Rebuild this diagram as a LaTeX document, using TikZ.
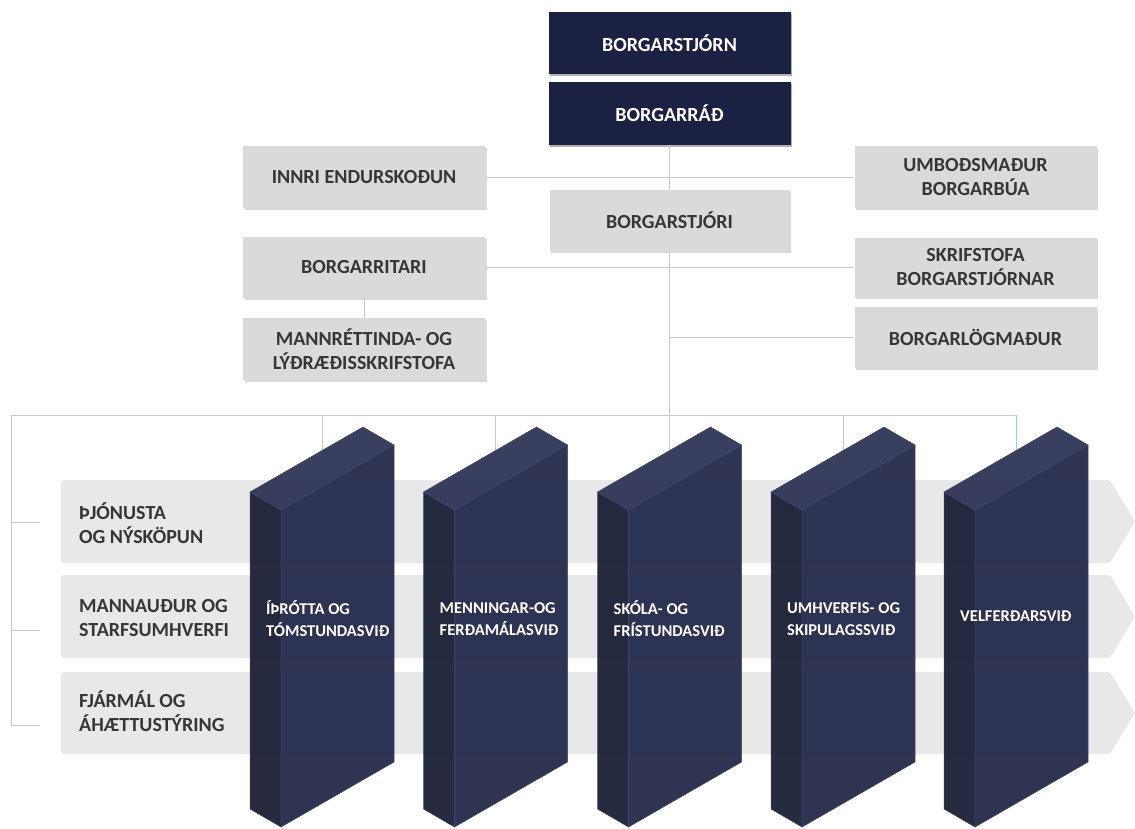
\documentclass[tikz,border=0pt]{standalone}
\usepackage{fontspec}
\setmainfont{Carlito}
\usetikzlibrary{shadows}

\definecolor{navy}{HTML}{1B2142}
\definecolor{boxgrey}{HTML}{DADADA}
\definecolor{bandgrey}{HTML}{E8E8E8}
\definecolor{txtgrey}{HTML}{363636}
\definecolor{linegrey}{HTML}{C8C8C8}
\definecolor{tealline}{HTML}{8FD5C8}
\definecolor{pfront}{HTML}{262C4C}
\definecolor{pside}{HTML}{1E2238}
\definecolor{ptop}{HTML}{313758}
\definecolor{pedge}{HTML}{404766}

\begin{document}
\begin{tikzpicture}[x=1pt,y=-1pt,
    council/.style={fill=navy,text=white,font=\bfseries\fontsize{20}{24}\selectfont,
      minimum width=242pt,minimum height=62pt,inner sep=0pt,
      drop shadow={shadow xshift=1.5pt,shadow yshift=-1.5pt,fill=black,opacity=0.3}},
    office/.style={fill=boxgrey,text=txtgrey,align=center,font=\bfseries\fontsize{20}{24}\selectfont,
      minimum width=242pt,minimum height=62pt,inner sep=0pt,
      drop shadow={shadow xshift=1.5pt,shadow yshift=-1.5pt,fill=black,opacity=0.15}},
    conn/.style={draw=linegrey,line width=0.8pt},
    band/.style={fill=bandgrey,rounded corners=3pt},
    bandtext/.style={anchor=west,align=left,text=txtgrey,inner sep=0pt,
      font=\bfseries\fontsize{20}{24}\selectfont},
    pillar side/.style={fill=pside,fill opacity=0.96,draw=pedge,line width=0.5pt},
    pillar front/.style={fill=pfront,fill opacity=0.96,draw=pedge,line width=0.5pt},
    pillar top/.style={fill=ptop,fill opacity=0.96,draw=pedge,line width=0.5pt},
    pillartext/.style={anchor=west,align=left,text=white,inner sep=0pt,
      font=\bfseries\fontsize{16.5}{22}\selectfont}]

    \useasboundingbox (0,0) rectangle (1135,828);

    % top of the tree
    \node[council] (Stjorn) at (669.5,43) {BORGARSTJÓRN};
    \node[council,minimum height=63pt] (Rad) at (669.5,113.5) {BORGARRÁÐ};

    \node[office] (Innri) at (364,177) {INNRI ENDURSKOÐUN};
    \node[office] (Umbod) at (975.5,177) {UMBOÐSMAÐUR\\BORGARBÚA};
    \node[office,minimum width=240pt,minimum height=61pt] (Stjori) at (669.5,220.5) {BORGARSTJÓRI};
    \node[office,minimum height=61pt] (Ritari) at (364,267.5) {BORGARRITARI};
    \node[office,minimum height=60pt] (Skrif) at (975.5,267.5) {SKRIFSTOFA\\BORGARSTJÓRNAR};
    \node[office] (Mannr) at (364,349) {MANNRÉTTINDA- OG\\LÝÐRÆÐISSKRIFSTOFA};
    \node[office,minimum height=61pt] (Logm) at (975.5,337.5) {BORGARLÖGMAÐUR};

    \coordinate (busL) at (11,415);
    \coordinate (busR) at (1016,415);
    \coordinate (T1) at (322,450.6);
    \coordinate (T2) at (495.5,450.6);
    \coordinate (T3) at (669.5,450.6);
    \coordinate (T4) at (843,450.6);
    \coordinate (T5) at (1016,450.6);
    \coordinate (Br1) at (40,522);
    \coordinate (Br2) at (40,630);
    \coordinate (Br3) at (40,725);

    \path[conn] (Rad) edge (Stjori);
    \path[conn] (Innri) edge (Umbod);
    \path[conn] (Ritari) edge (Skrif);
    \path[conn] (Ritari) edge (Mannr);
    \draw[conn] (Rad.south |- Logm.west) -- (Logm.west);
    \draw[conn] (Stjori) -- (T3);

    % bus to the departments
    \draw[conn] (busL) -- (busR);
    \draw[conn] (T1 |- busL) -- (T1);
    \draw[conn] (T2 |- busL) -- (T2);
    \draw[conn] (T4 |- busL) -- (T4);
    \draw[tealline,line width=0.8pt] (busR) -- (T5);
    \draw[conn] (busL) -- (busL |- Br3) -- (Br3);
    \draw[conn] (busL |- Br1) -- (Br1);
    \draw[conn] (busL |- Br2) -- (Br2);

    % bands
    \fill[band] (61,480) -- (1110,480) -- (1135,521.5) -- (1110,563) -- (61,563) -- cycle;
    \fill[band] (61,575) -- (1110,575) -- (1135,616.5) -- (1110,658) -- (61,658) -- cycle;
    \fill[band] (61,672) -- (1110,672) -- (1135,713) -- (1110,754) -- (61,754) -- cycle;

    \node[bandtext] (L1) at (79,523) {ÞJÓNUSTA\\OG NÝSKÖPUN};
    \node[bandtext] (L2) at (79,618.5) {MANNAUÐUR OG\\STARFSUMHVERFI};
    \node[bandtext] (L3) at (79,711.5) {FJÁRMÁL OG\\ÁHÆTTUSTÝRING};

    % pillars
    \begin{scope}[xshift=250pt]
      \filldraw[pillar side] (0,492) -- (31,510) -- (31,827) -- (0,809) -- cycle;
      \filldraw[pillar front] (31,510) -- (144,445) -- (144,762) -- (31,827) -- cycle;
      \filldraw[pillar top] (0,492) -- (113,427) -- (144,445) -- (31,510) -- cycle;
    \end{scope}
    \begin{scope}[xshift=423.5pt]
      \filldraw[pillar side] (0,492) -- (31,510) -- (31,827) -- (0,809) -- cycle;
      \filldraw[pillar front] (31,510) -- (144,445) -- (144,762) -- (31,827) -- cycle;
      \filldraw[pillar top] (0,492) -- (113,427) -- (144,445) -- (31,510) -- cycle;
    \end{scope}
    \begin{scope}[xshift=597.5pt]
      \filldraw[pillar side] (0,492) -- (31,510) -- (31,827) -- (0,809) -- cycle;
      \filldraw[pillar front] (31,510) -- (144,445) -- (144,762) -- (31,827) -- cycle;
      \filldraw[pillar top] (0,492) -- (113,427) -- (144,445) -- (31,510) -- cycle;
    \end{scope}
    \begin{scope}[xshift=771pt]
      \filldraw[pillar side] (0,492) -- (31,510) -- (31,827) -- (0,809) -- cycle;
      \filldraw[pillar front] (31,510) -- (144,445) -- (144,762) -- (31,827) -- cycle;
      \filldraw[pillar top] (0,492) -- (113,427) -- (144,445) -- (31,510) -- cycle;
    \end{scope}
    \begin{scope}[xshift=944pt]
      \filldraw[pillar side] (0,492) -- (31,510) -- (31,827) -- (0,809) -- cycle;
      \filldraw[pillar front] (31,510) -- (144,445) -- (144,762) -- (31,827) -- cycle;
      \filldraw[pillar top] (0,492) -- (113,427) -- (144,445) -- (31,510) -- cycle;
    \end{scope}

    \node[pillartext] (S1) at (266,619) {ÍÞRÓTTA OG\\TÓMSTUNDASVIÐ};
    \node[pillartext] (S2) at (439.5,619) {MENNINGAR-OG\\FERÐAMÁLASVIÐ};
    \node[pillartext] (S3) at (613.5,619) {SKÓLA- OG\\FRÍSTUNDASVIÐ};
    \node[pillartext] (S4) at (787,619) {UMHVERFIS- OG\\SKIPULAGSSVIÐ};
    \node[pillartext] (S5) at (960,616) {VELFERÐARSVIÐ};

  \end{tikzpicture}
\end{document}
